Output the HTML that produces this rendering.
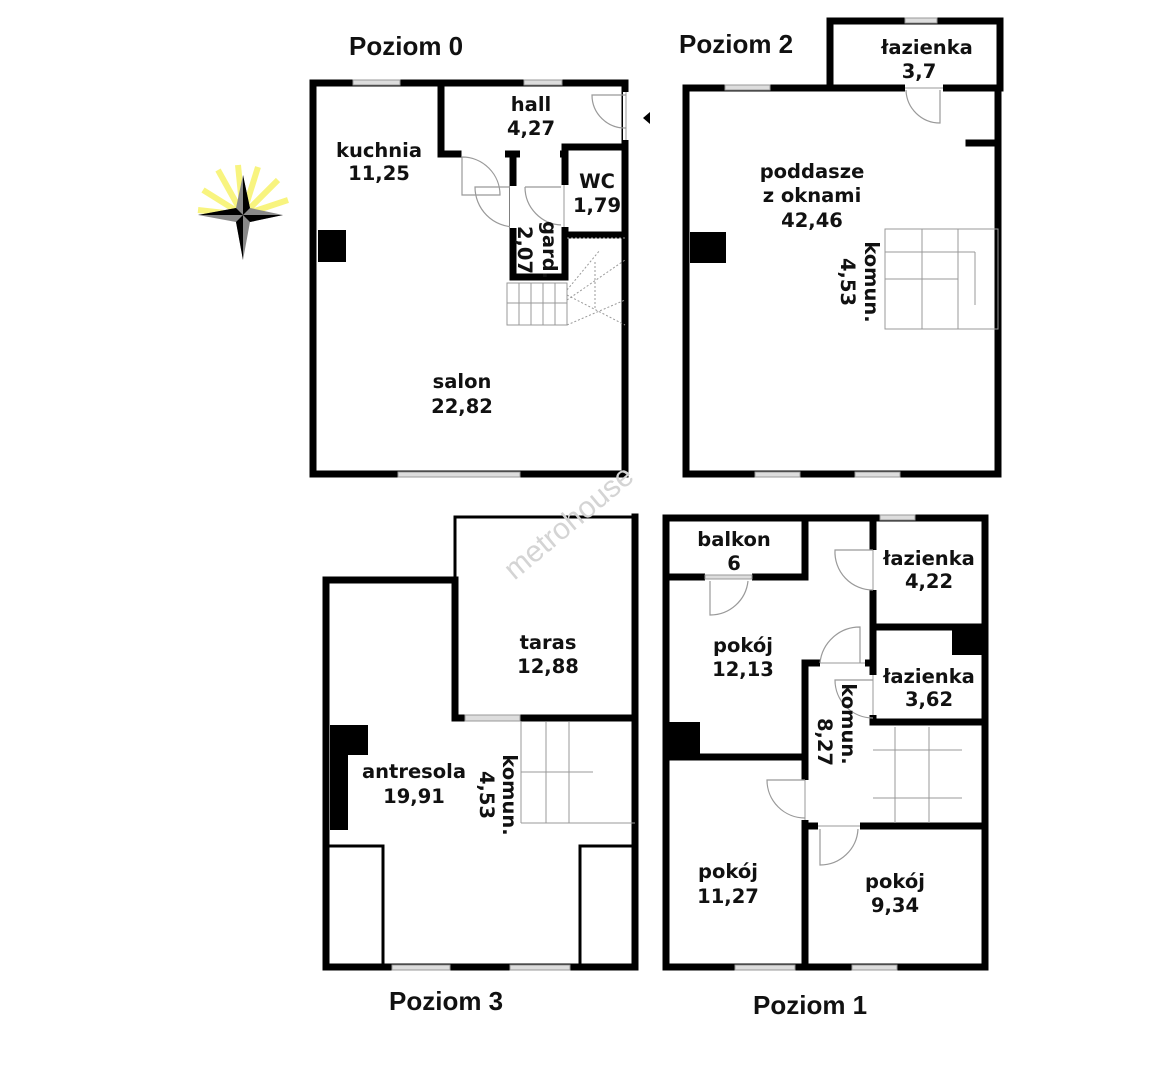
<!DOCTYPE html>
<html><head><meta charset="utf-8"><style>
html,body{margin:0;padding:0;background:#fff;width:1157px;height:1080px;overflow:hidden}
svg{display:block}
.l{font-family:"DejaVu Sans","Liberation Sans",sans-serif;font-weight:bold;font-size:19.5px;fill:#111;text-anchor:middle}
.t{font-family:"Liberation Sans",sans-serif;font-weight:bold;font-size:26px;fill:#111}
.w{stroke:#000;stroke-width:7;stroke-linecap:square;fill:none}
.tw{stroke:#000;stroke-width:3;fill:none}
.win{fill:#ddd;stroke:#999;stroke-width:1}
.d{stroke:#999;stroke-width:1.2;fill:none}
.s{stroke:#999;stroke-width:1;fill:none}
</style></head><body>
<svg width="1157" height="1080" viewBox="0 0 1157 1080">
<!-- compass -->
<g transform="translate(243,215)">
<g stroke="#f6f04a" stroke-width="6" opacity="0.7">
<line x1="0" y1="0" x2="-45" y2="-5"/><line x1="0" y1="0" x2="-40" y2="-25"/><line x1="0" y1="0" x2="-25" y2="-45"/><line x1="0" y1="0" x2="-5" y2="-50"/><line x1="0" y1="0" x2="15" y2="-48"/><line x1="0" y1="0" x2="35" y2="-35"/><line x1="0" y1="0" x2="45" y2="-15"/></g>
<polygon points="0,-40 7,-7 40,0 7,7 0,45 -7,7 -45,0 -7,-7" fill="#888"/>
<polygon points="0,-40 7,-7 0,0" fill="#000"/><polygon points="40,0 7,7 0,0" fill="#000"/><polygon points="0,45 -7,7 0,0" fill="#000"/><polygon points="-45,0 -7,-7 0,0" fill="#000"/>
</g>
<text class="t" x="349" y="55">Poziom 0</text>
<text class="t" x="679" y="53">Poziom 2</text>
<text class="t" x="389" y="1010">Poziom 3</text>
<text class="t" x="753" y="1014">Poziom 1</text>

<!-- Poziom 0 -->
<rect class="w" x="313" y="83" width="312" height="391"/>
<path class="w" d="M441 83V154H458M504 154H565V235H625M513 157V277H565V235M565 147H625"/>
<rect class="win" x="353" y="80" width="47" height="5"/><rect class="win" x="524" y="80" width="38" height="5"/>
<rect class="win" x="398" y="472" width="122" height="5"/>
<rect x="470" y="150" width="35" height="8" fill="#fff"/>
<rect x="520" y="150" width="40" height="8" fill="#fff"/>
<rect x="623" y="92" width="8" height="48" fill="#fff"/><line class="s" x1="626" y1="92" x2="626" y2="140"/>
<path class="d" d="M626 95H592A33 33 0 0 0 626 128"/>
<path class="d" d="M462 157V195H500A38 38 0 0 0 462 157"/>
<path class="d" d="M475 187A40 40 0 0 0 515 227V187Z"/>
<rect x="510" y="186" width="8" height="42" fill="#fff"/>
<path class="d" d="M525 187A38 38 0 0 0 562 225"/><line class="d" x1="525" y1="187" x2="562" y2="187"/>
<rect x="561" y="185" width="8" height="42" fill="#fff"/><line class="s" x1="564" y1="185" x2="564" y2="227"/>
<rect x="318" y="230" width="28" height="32" fill="#000"/>
<g class="s"><rect x="507" y="283" width="60" height="42"/><line x1="519" y1="283" x2="519" y2="325"/><line x1="531" y1="283" x2="531" y2="325"/><line x1="543" y1="283" x2="543" y2="325"/><line x1="555" y1="283" x2="555" y2="325"/><line x1="507" y1="303" x2="567" y2="303"/><path d="M567 238H625M567 325L625 300M567 300L625 260M567 290L600 250M567 295L625 325M595 262V310" stroke-dasharray="2 2"/></g>
<polygon points="643,118 650,112 650,124" fill="#000"/>
<text class="l" x="379" y="157">kuchnia</text><text class="l" x="379" y="180">11,25</text>
<text class="l" x="531" y="111">hall</text><text class="l" x="531" y="135">4,27</text>
<text class="l" x="597" y="188">WC</text><text class="l" x="597" y="212">1,79</text>
<text class="l" transform="translate(543,250) rotate(90)">gard.</text><text class="l" transform="translate(518,250) rotate(90)">2,07</text>
<text class="l" x="462" y="388">salon</text><text class="l" x="462" y="413">22,82</text>

<!-- Poziom 2 -->
<rect class="w" x="686" y="88" width="312" height="386"/>
<path class="w" d="M830 88V21H1000V88"/>
<path class="w" d="M969 143H998"/>
<rect class="win" x="725" y="85" width="45" height="5"/><rect class="win" x="905" y="18" width="32" height="5"/>
<rect class="win" x="755" y="472" width="45" height="5"/><rect class="win" x="855" y="472" width="45" height="5"/>
<rect x="905" y="84" width="38" height="8" fill="#fff"/><line class="s" x1="905" y1="88" x2="943" y2="88"/>
<path class="d" d="M940 90V123A34 34 0 0 1 906 90"/>
<rect x="690" y="232" width="36" height="31" fill="#000"/>
<g class="s"><rect x="885" y="229" width="113" height="100"/><line x1="922" y1="229" x2="922" y2="329"/><line x1="958" y1="229" x2="958" y2="329"/><line x1="885" y1="252" x2="975" y2="252"/><line x1="885" y1="279" x2="958" y2="279"/><line x1="975" y1="252" x2="975" y2="305"/></g>
<text class="l" x="812" y="178">poddasze</text><text class="l" x="812" y="202">z oknami</text><text class="l" x="812" y="227">42,46</text>
<text class="l" x="927" y="54">łazienka</text><text class="l" x="919" y="78">3,7</text>
<text class="l" transform="translate(865,282) rotate(90)">komun.</text><text class="l" transform="translate(841,282) rotate(90)">4,53</text>

<!-- Poziom 3 -->
<path class="w" d="M326 580V967H635V718M326 580H455"/>
<path class="tw" d="M455 580V517H635"/>
<path class="w" d="M455 580V718H635M635 517V718"/>
<rect class="win" x="465" y="715" width="55" height="6"/>
<rect class="win" x="392" y="965" width="58" height="5"/><rect class="win" x="510" y="965" width="60" height="5"/>
<path d="M330 725H368V755H348V830H330Z" fill="#000"/>
<path class="tw" d="M326 846H383V967M637 846H580V967"/>
<g class="s"><line x1="521" y1="722" x2="521" y2="823"/><line x1="546" y1="722" x2="546" y2="823"/><line x1="569" y1="722" x2="569" y2="823"/><line x1="521" y1="772" x2="593" y2="772"/><line x1="521" y1="823" x2="635" y2="823"/></g>
<text class="l" x="548" y="649">taras</text><text class="l" x="548" y="673">12,88</text>
<text class="l" x="414" y="778">antresola</text><text class="l" x="414" y="803">19,91</text>
<text class="l" transform="translate(503,795) rotate(90)">komun.</text><text class="l" transform="translate(480,795) rotate(90)">4,53</text>
<text x="575" y="530" transform="rotate(-40 575 530)" style="font-family:'Liberation Sans',sans-serif;font-size:30px;fill:#d4d4d4;text-anchor:middle">metrohouse</text>

<!-- Poziom 1 -->
<rect class="w" x="666" y="518" width="319" height="449"/>
<path class="w" d="M805 518V577H666M873 518V722M873 627H985M873 722H985M666 757H805M805 663V967M805 663H873M805 826H985"/>
<rect x="705" y="573" width="47" height="8" fill="#fff"/><rect class="win" x="705" y="575" width="47" height="4"/>
<rect x="869" y="550" width="8" height="40" fill="#fff"/><line class="s" x1="873" y1="550" x2="873" y2="590"/>
<rect x="869" y="675" width="8" height="40" fill="#fff"/><line class="s" x1="873" y1="675" x2="873" y2="715"/>
<rect x="820" y="659" width="45" height="8" fill="#fff"/><line class="s" x1="820" y1="663" x2="865" y2="663"/>
<rect x="801" y="780" width="8" height="40" fill="#fff"/><line class="s" x1="805" y1="780" x2="805" y2="820"/>
<rect x="818" y="822" width="42" height="8" fill="#fff"/><line class="s" x1="818" y1="826" x2="860" y2="826"/>
<rect class="win" x="880" y="515" width="35" height="5"/>
<rect class="win" x="735" y="965" width="60" height="5"/><rect class="win" x="852" y="965" width="45" height="5"/>
<path class="d" d="M710 581V615A38 38 0 0 0 748 581"/>
<path class="d" d="M873 550H835A38 38 0 0 0 873 590"/>
<path class="d" d="M820 663A40 40 0 0 1 860 627V663"/>
<path class="d" d="M873 680H835A38 38 0 0 0 873 718"/>
<path class="d" d="M805 780H767A38 38 0 0 0 805 818"/>
<path class="d" d="M820 829V865A38 38 0 0 0 858 829"/>
<rect x="666" y="722" width="34" height="35" fill="#000"/>
<rect x="952" y="627" width="33" height="28" fill="#000"/>
<g class="s"><line x1="873" y1="750" x2="962" y2="750"/><line x1="873" y1="798" x2="962" y2="798"/><line x1="895" y1="727" x2="895" y2="823"/><line x1="929" y1="727" x2="929" y2="823"/></g>
<text class="l" x="734" y="546">balkon</text><text class="l" x="734" y="570">6</text>
<text class="l" x="929" y="565">łazienka</text><text class="l" x="929" y="588">4,22</text>
<text class="l" x="929" y="683">łazienka</text><text class="l" x="929" y="706">3,62</text>
<text class="l" x="743" y="652">pokój</text><text class="l" x="743" y="676">12,13</text>
<text class="l" transform="translate(842,724) rotate(90)">komun.</text><text class="l" transform="translate(818,742) rotate(90)">8,27</text>
<text class="l" x="728" y="878">pokój</text><text class="l" x="728" y="903">11,27</text>
<text class="l" x="895" y="888">pokój</text><text class="l" x="895" y="912">9,34</text>
</svg>
</body></html>
